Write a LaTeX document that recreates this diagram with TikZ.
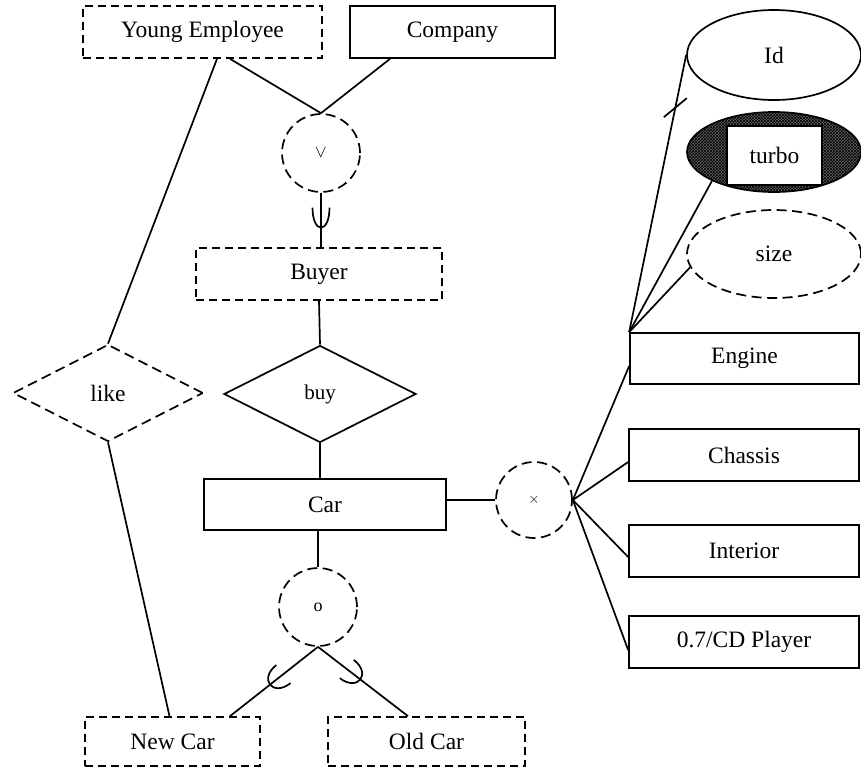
\documentclass[tikz,border=0pt]{standalone}
\usepackage{fontspec}
\setmainfont{Liberation Serif}
\usetikzlibrary{shapes.geometric,calc,patterns}

\tikzset{
  % subset marker: a cup whose opening faces the start of the path
  pics/cup/.style 2 args={code={\draw (-#1,#2) .. controls ({#1/3},#2) and ({#1/3},-#2) .. (-#1,-#2);}},
}

\begin{document}
\begin{tikzpicture}[x=1pt,y=-1pt,line width=1.7pt,
  lbl/.style={font=\fontsize{23.5}{28}\selectfont},
  dashline/.style={dash pattern=on 8pt off 5pt},
  longdash/.style={dash pattern=on 10pt off 5.5pt},
  entity/.style={lbl,draw,rectangle,inner sep=0pt,minimum height=52pt},
  weak/.style={entity,dashline},
  rel/.style={lbl,draw,diamond,inner sep=0pt,minimum width=192pt,minimum height=97pt},
  attr/.style={lbl,draw,ellipse,inner sep=0pt,minimum width=174pt},
  opcircle/.style={draw,circle,longdash,inner sep=0pt,minimum size=78pt},
  cupmark/.style={sloped,allow upside down},
]
\useasboundingbox (0,0) rectangle (861,772);

% entities
\node[weak,minimum width=239pt] (ye) at (202.5,32) {Young Employee};
\node[entity,minimum width=205pt] (company) at (452.5,32) {Company};
\node[weak,minimum width=246pt] (buyer) at (319,274) {Buyer};
\node[entity,minimum width=242pt,minimum height=51pt] (car) at (325,504.5) {Car};
\node[weak,minimum width=175pt,minimum height=49pt] (newcar) at (172.5,741.5) {New Car};
\node[weak,minimum width=197pt,minimum height=49pt] (oldcar) at (426.5,741.5) {Old Car};

% components of a car
\node[entity,minimum width=229pt,minimum height=51pt] (engine) at (744.5,358.5) {Engine};
\node[entity,minimum width=230pt] (chassis) at (744,455) {Chassis};
\node[entity,minimum width=230pt] (interior) at (744,551) {Interior};
\node[entity,minimum width=230pt] (cd) at (744,642) {0.7/CD Player};

% engine attributes
\node[attr,minimum height=90pt] (id) at (774,55) {Id};
\node[attr,minimum height=80pt,preaction={fill=black!62},pattern=crosshatch,pattern color=black] (turboE) at (774,152) {};
\node[entity,fill=white,minimum width=95pt,minimum height=59pt] (turbo) at (774.5,155.5) {turbo};
\node[attr,longdash,minimum height=88pt] (size) at (774,254) {size};

% relationships
\node[rel,longdash,minimum width=190pt] (like) at (108,393) {like};
\node[rel] (buy) at (320,394) {\fontsize{21}{25}\selectfont buy};

% operators
\node[opcircle] (vee) at (321,153) {\fontsize{17}{20}\selectfont$\vee$};
\node[opcircle,minimum size=76pt] (xc) at (534,500) {\fontsize{14}{16}\selectfont$\times$};
\node[opcircle] (oc) at (318,607) {\fontsize{18}{22}\selectfont o};

% connectors
\draw ([xshift=27.5pt]ye.south) -- (vee.north);
\draw ([xshift=-62.5pt]company.south) -- (vee.north);
\draw ([xshift=14.5pt]ye.south) -- (like.north);
\draw (like.south) -- ([xshift=-3pt]newcar.north);
\draw (vee.south) -- (vee.south |- buyer.north) pic[pos=0.64,cupmark]{cup={20}{8.5}};
\draw (buyer.south) -- (buy.north);
\draw (buy.south) -- (buy.south |- car.north);
\draw (xc.west -| car.east) -- (xc.west);
\draw (oc.north |- car.south) -- (oc.north);
\draw (oc.south) -- ([xshift=57.5pt]newcar.north) pic[pos=0.545,cupmark]{cup={17}{11.5}};
\draw (oc.south) -- ([xshift=-18.5pt]oldcar.north) pic[pos=0.47,cupmark]{cup={17}{11.5}};

\draw (xc.east) -- ([yshift=-7.5pt]engine.west);
\draw (xc.east) -- ([yshift=-7pt]chassis.west);
\draw (xc.east) -- ([yshift=-6pt]interior.west);
\draw (xc.east) -- ([yshift=-8pt]cd.west);

\draw (engine.north west) -- (id.west);
\draw (engine.north west) -- (turboE.205);
\draw (engine.north west) -- (size.189);
% key marker on the Id attribute
\draw ($(id.west)!0.19!(engine.north west)$) ++(-11.5,9.5) -- ++(23,-19);
\end{tikzpicture}
\end{document}
